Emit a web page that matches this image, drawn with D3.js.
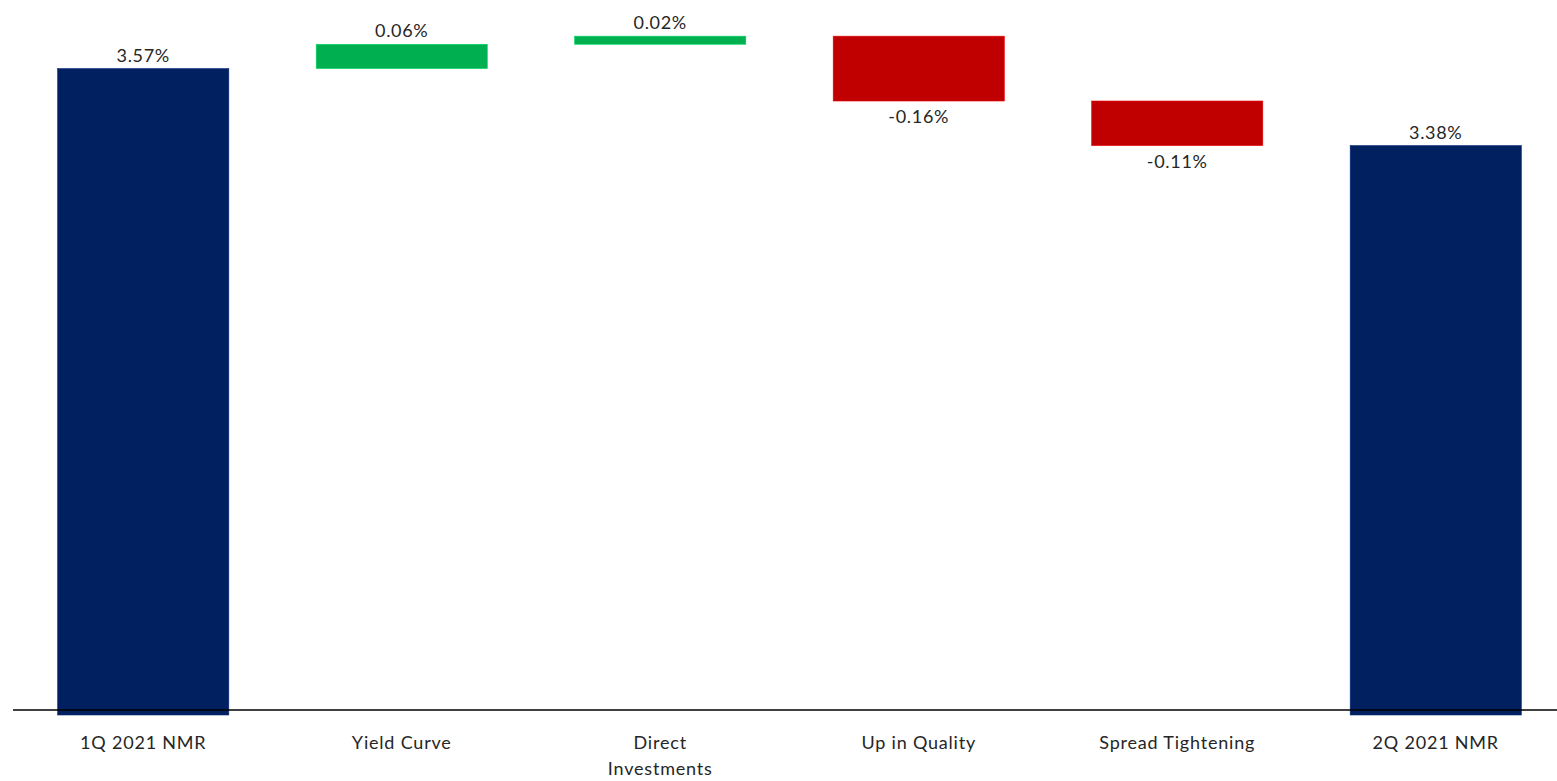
<!DOCTYPE html>
<html>
<head>
<meta charset="utf-8">
<script src="https://cdn.jsdelivr.net/npm/d3@7"></script>
<style>
  body { margin: 0; background: #fff; }
  svg { display: block; }
</style>
</head>
<body>
<svg id="chart" width="1557" height="781"></svg>
<script>
// waterfall: start total, changes, end total
var categories = ["1Q 2021 NMR", "Yield Curve", "Direct Investments", "Up in Quality", "Spread Tightening", "2Q 2021 NMR"];
var tickLabels = [["1Q 2021 NMR"], ["Yield Curve"], ["Direct", "Investments"], ["Up in Quality"], ["Spread Tightening"], ["2Q 2021 NMR"]];
var values = [3.57, 0.06, 0.02, -0.16, -0.11, 3.38];
var kinds = ["total", "delta", "delta", "delta", "delta", "total"];

var colors = { total: "#002060", up: "#00B050", down: "#C00000" };

var svg = d3.select("#chart"),
    width = 1557,
    axisY = 710,
    font = "Lato, 'Open Sans', sans-serif";

// running sum for the floating bars
var run = 0;
var bars = categories.map(function(c, i) {
  var v = values[i], lo, hi, type;
  if (kinds[i] == "total") {
    lo = null; hi = v; run = v; type = "total";
  } else {
    lo = run; hi = run + v; run = hi;
    type = v >= 0 ? "up" : "down";
  }
  return { cat: c, value: v, lo: lo, hi: hi, type: type };
});

var x = d3.scaleBand()
  .domain(categories)
  .range([14, 1565])
  .paddingInner(0.338)
  .paddingOuter(0.169);

var yMin = 1.975;
var y = d3.scaleLinear()
  .domain([yMin, 3.7])
  .range([715, 15.9]);

// plain hyphen for negatives, like the original
var locale = d3.formatLocale({ decimal: ".", thousands: ",", grouping: [3], currency: ["", ""], minus: "-" });
var fmt = function(v) { return locale.format(".2f")(v) + "%"; };

var g = svg.append("g");

g.selectAll("rect.bar")
  .data(bars)
  .enter().append("rect")
  .attr("class", "bar")
  .attr("x", function(d) { return x(d.cat); })
  .attr("width", x.bandwidth())
  .attr("y", function(d) {
    return d.type == "total" ? y(d.hi) : y(Math.max(d.lo, d.hi));
  })
  .attr("height", function(d) {
    return d.type == "total" ? y(yMin) - y(d.hi) : Math.abs(y(d.lo) - y(d.hi));
  })
  .attr("fill", function(d) { return colors[d.type]; })
  .attr("stroke", function(d) { return d3.color(colors[d.type]).brighter(0.6); })
  .attr("stroke-width", 0.6);

// value labels: above for positives, below for negatives
g.selectAll("text.val")
  .data(bars)
  .enter().append("text")
  .attr("class", "val")
  .attr("x", function(d) { return x(d.cat) + x.bandwidth() / 2; })
  .attr("y", function(d) {
    if (d.type == "down") return y(Math.min(d.lo, d.hi)) + 22;
    return y(d.hi) - 7;
  })
  .attr("text-anchor", "middle")
  .style("font-family", font)
  .style("font-size", "18px")
  .style("letter-spacing", "0.7px")
  .style("fill", "#262626")
  .text(function(d) { return fmt(d.value); });

// category axis
var xAxis = svg.append("g")
  .attr("transform", "translate(0," + axisY + ")")
  .call(d3.axisBottom(x).tickSize(0).tickFormat(""));

xAxis.select(".domain")
  .attr("d", "M13,0H" + width)
  .attr("stroke", "#000")
  .attr("stroke-width", 1.5);

xAxis.selectAll(".tick").each(function(d, i) {
  var t = d3.select(this).select("text");
  t.attr("y", 0).attr("dy", null);
  tickLabels[i].forEach(function(line, j) {
    t.append("tspan")
      .attr("x", 0)
      .attr("y", 39 + j * 26)
      .text(line);
  });
});

xAxis.selectAll(".tick text")
  .style("font-family", font)
  .style("font-size", "18px")
  .style("letter-spacing", "0.8px")
  .style("fill", "#262626");
</script>
</body>
</html>
